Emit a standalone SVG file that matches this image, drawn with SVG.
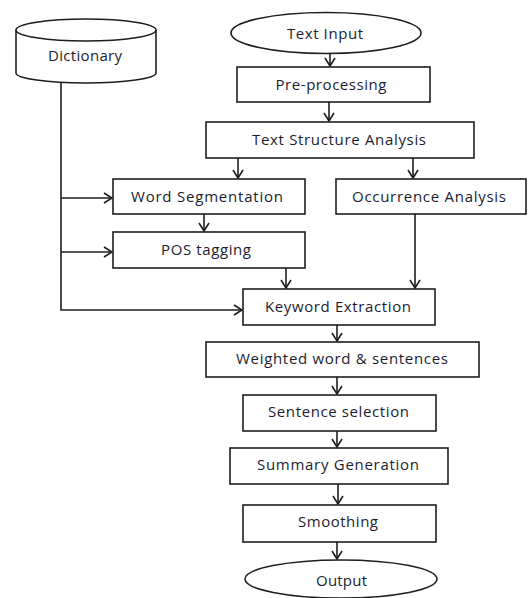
<svg xmlns="http://www.w3.org/2000/svg" width="528" height="598" viewBox="0 0 528 598">
<defs>
<style>
.n{fill:#fff;stroke:#1e1e1e;stroke-width:1.6}
.t{font-family:"Open Sans","DejaVu Sans",sans-serif;font-size:15px;fill:#1c1c30;text-anchor:middle;dominant-baseline:central}
.c{fill:none;stroke:#1e1e1e;stroke-width:1.6}
</style>
<marker id="a" markerWidth="12" markerHeight="12" refX="9" refY="6" orient="auto" markerUnits="userSpaceOnUse">
<path d="M1,1 L9,6 L1,11" fill="none" stroke="#1e1e1e" stroke-width="1.6"/>
</marker>
</defs>
<rect width="528" height="598" fill="#fff"/>
<g id="connectors">
<path class="c" d="M330,53 V66" marker-end="url(#a)"/>
<path class="c" d="M329,102 V121" marker-end="url(#a)"/>
<path class="c" d="M238,158 V178" marker-end="url(#a)"/>
<path class="c" d="M413,158 V178" marker-end="url(#a)"/>
<path class="c" d="M204,214 V231" marker-end="url(#a)"/>
<path class="c" d="M286,268 V288" marker-end="url(#a)"/>
<path class="c" d="M415,214 V288" marker-end="url(#a)"/>
<path class="c" d="M61,83 V310 H242" marker-end="url(#a)"/>
<path class="c" d="M61,198 H112" marker-end="url(#a)"/>
<path class="c" d="M61,252 H112" marker-end="url(#a)"/>
<path class="c" d="M337,325 V341" marker-end="url(#a)"/>
<path class="c" d="M337,377 V394" marker-end="url(#a)"/>
<path class="c" d="M337,431 V447" marker-end="url(#a)"/>
<path class="c" d="M338,484 V504" marker-end="url(#a)"/>
<path class="c" d="M337,542 V559" marker-end="url(#a)"/>
</g>
<g id="dictionary">
<path class="n" d="M16,30 V73 A70,10 0 0 0 156,73 V30"/>
<ellipse class="n" cx="86" cy="30" rx="70" ry="11"/>
<text class="t" x="85" y="55" textLength="74" lengthAdjust="spacing">Dictionary</text>
</g>
<g id="text-input">
<ellipse class="n" cx="326" cy="33" rx="95" ry="20.5"/>
<text class="t" x="325" y="33" textLength="76" lengthAdjust="spacing">Text Input</text>
</g>
<g id="pre-processing">
<rect class="n" x="237" y="67" width="193" height="35"/>
<text class="t" x="331" y="84" textLength="111" lengthAdjust="spacing">Pre-processing</text>
</g>
<g id="text-structure-analysis">
<rect class="n" x="206" y="122" width="268" height="36"/>
<text class="t" x="339" y="139" textLength="174" lengthAdjust="spacing">Text Structure Analysis</text>
</g>
<g id="word-segmentation">
<rect class="n" x="113" y="179" width="192" height="35"/>
<text class="t" x="207" y="196" textLength="152" lengthAdjust="spacing">Word Segmentation</text>
</g>
<g id="occurrence-analysis">
<rect class="n" x="336" y="179" width="190" height="35"/>
<text class="t" x="429" y="196" textLength="154" lengthAdjust="spacing">Occurrence Analysis</text>
</g>
<g id="pos-tagging">
<rect class="n" x="113" y="232" width="192" height="36"/>
<text class="t" x="206" y="249" textLength="90" lengthAdjust="spacing">POS tagging</text>
</g>
<g id="keyword-extraction">
<rect class="n" x="243" y="289" width="192" height="36"/>
<text class="t" x="338" y="306" textLength="146" lengthAdjust="spacing">Keyword Extraction</text>
</g>
<g id="weighted">
<rect class="n" x="206" y="342" width="273" height="35"/>
<text class="t" x="342" y="358" textLength="212" lengthAdjust="spacing">Weighted  word &amp; sentences</text>
</g>
<g id="sentence-selection">
<rect class="n" x="243" y="395" width="193" height="36"/>
<text class="t" x="338.5" y="411" textLength="141" lengthAdjust="spacing">Sentence  selection</text>
</g>
<g id="summary-generation">
<rect class="n" x="230" y="448" width="218" height="36"/>
<text class="t" x="338" y="464" textLength="162" lengthAdjust="spacing">Summary Generation</text>
</g>
<g id="smoothing">
<rect class="n" x="243" y="505" width="193" height="37"/>
<text class="t" x="338" y="521" textLength="80" lengthAdjust="spacing">Smoothing</text>
</g>
<g id="output">
<ellipse class="n" cx="341" cy="579" rx="96" ry="19"/>
<text class="t" x="341.5" y="580" textLength="51" lengthAdjust="spacing">Output</text>
</g>
</svg>
